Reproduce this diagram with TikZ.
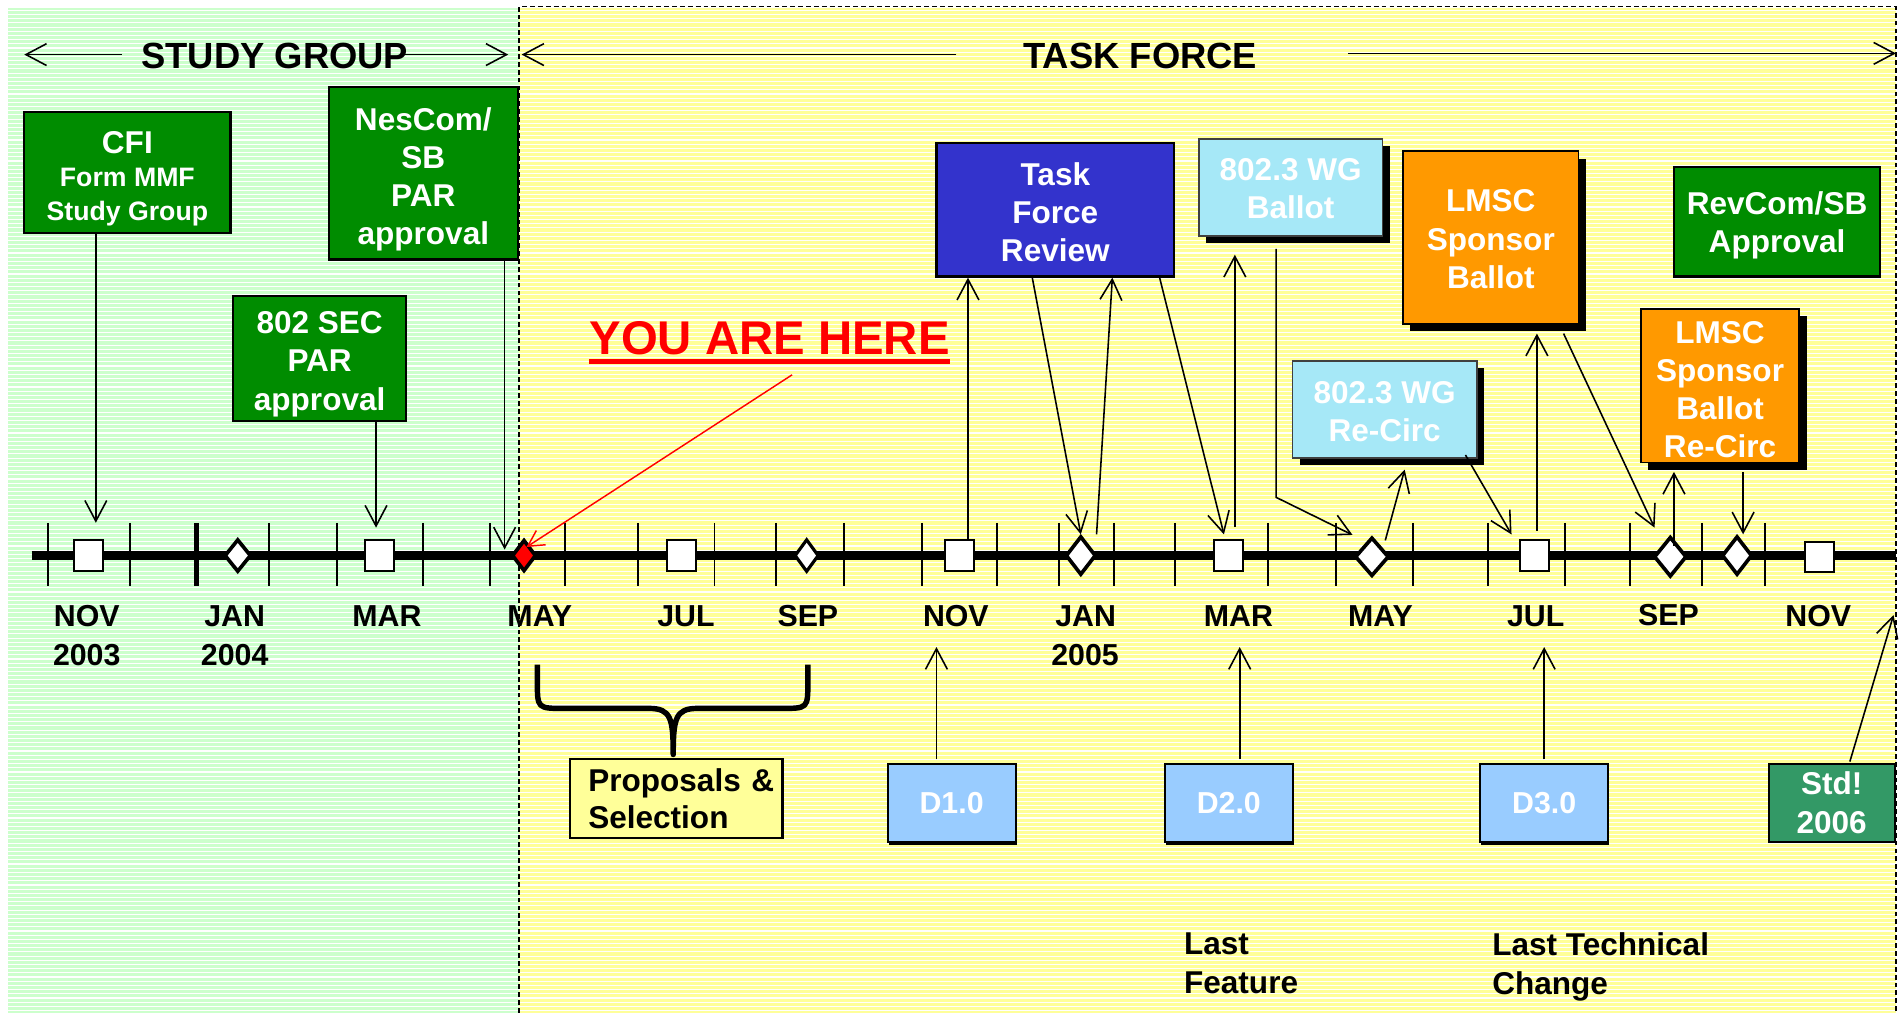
\documentclass[tikz,border=0pt]{standalone}
\usepackage{fontspec}
\setmainfont{Liberation Sans}
\usetikzlibrary{arrows.meta,shapes.geometric,shadows,calc}
\definecolor{bggreen}{RGB}{204,255,204}
\definecolor{bgyellow}{RGB}{255,255,153}
\definecolor{dgreen}{RGB}{0,140,0}
\definecolor{tfblue}{RGB}{51,51,204}
\definecolor{wgcyan}{RGB}{166,232,247}
\definecolor{lmorange}{RGB}{255,153,0}
\definecolor{dblue}{RGB}{153,204,255}
\definecolor{stdgreen}{RGB}{51,153,102}
\definecolor{propyellow}{RGB}{255,255,153}
\newcommand{\lift}[1]{\rule{0pt}{#1}}
\begin{document}
\begin{tikzpicture}[x=1pt,y=-1pt,
  arr/.style={line width=1.3pt,-{Straight Barb[length=17pt,width=18pt]}},
  redarr/.style={draw=red,line width=1.2pt,-{Straight Barb[length=13pt,width=14pt]}},
  boxbase/.style={draw=black,inner sep=0pt,align=center,text=white,
    font=\fontsize{26}{31.5}\selectfont\bfseries},
  gbox/.style={boxbase,fill=dgreen,line width=1.8pt},
  tfbox/.style={boxbase,fill=tfblue,line width=1.8pt},
  cbox/.style={boxbase,fill=wgcyan,draw=black!75,line width=1.2pt,
    drop shadow={shadow xshift=6pt,shadow yshift=-6pt,fill=black,opacity=1}},
  obox/.style={boxbase,fill=lmorange,line width=1.5pt,
    drop shadow={shadow xshift=6pt,shadow yshift=-6pt,fill=black,opacity=1}},
  dbox/.style={boxbase,fill=dblue,line width=1.5pt,minimum width=105.5pt,minimum height=64.5pt,
    font=\fontsize{25}{30}\selectfont\bfseries,
    drop shadow={shadow xshift=0.8pt,shadow yshift=-2pt,fill=black,opacity=1}},
  sbox/.style={boxbase,fill=stdgreen,line width=1.8pt,minimum width=104pt,minimum height=64.5pt,
    font=\fontsize{26}{32}\selectfont\bfseries},
  pbox/.style={draw=black,fill=propyellow,line width=1.8pt,text=black,align=left,
    text width=175pt,inner xsep=0.1pt,inner ysep=0pt,minimum height=65pt,
    font=\fontsize{26}{30}\selectfont\bfseries},
  sqm/.style={draw=black,fill=white,line width=1.8pt,minimum width=24pt,minimum height=25pt,inner sep=0pt},
  dmm/.style 2 args={diamond,draw=black,fill=white,line width=3pt,inner sep=0pt,
    minimum width=#1,minimum height=#2},
  mon/.style={inner sep=0pt,font=\fontsize{25}{30}\selectfont\bfseries},
  ttl/.style={inner sep=0pt,font=\fontsize{30}{36}\selectfont\bfseries},
  lbl/.style={inner sep=0pt,align=left,font=\fontsize{26}{32}\selectfont\bfseries}
]
\useasboundingbox (0,0) rectangle (1568,835);
% backgrounds
\fill[bggreen] (7,7) rectangle (428,835);
\fill[bgyellow] (428,7) rectangle (1563,835);
\foreach \i in {0,...,239}{
  \pgfmathsetmacro{\yy}{8.5+3.45*\i}
  \draw[white,line width=0.9pt] (7,\yy) -- (1563,\yy);
}
\draw[line width=1.2pt,dash pattern=on 4pt off 2.5pt] (428,835) -- (428,5.5) -- (1563,5.5) -- (1563,835);

% titles
\node[ttl] (sg) at (226.5,46) {STUDY GROUP};
\node[ttl] (tf) at (940,46) {TASK FORCE};
\coordinate (sgL) at (20,45);
\coordinate (sgR) at (419,45);
\coordinate (tfL) at (430,45);
\coordinate (tfR) at (1563,44);
\draw[arr] ($(sg.west)+(-16,-1)$) -- (sgL);
\draw[arr] ($(sg.east)+(-3,-1)$) -- (sgR);
\draw[arr] ($(tf.west)+(-55,-1)$) -- (tfL);
\draw[arr] ($(tf.east)+(75,-2)$) -- (tfR);

% timeline
\draw[line width=7pt] (26,458) -- (1563,458);
\foreach \x in {39.4,107,222,278,349,404,466,526,589,640,696,760,822,873,918,969,1045,1101,1165,1227,1290,1344,1403,1455}
  \draw[line width=1.6pt] (\x,431) -- (\x,483);
\draw[line width=3.8pt] (162,431) -- (162,483);

% markers
\node[sqm] (sq1) at (73,458) {};
\node[sqm] (sq2) at (313,458) {};
\node[sqm] (sq3) at (562,458) {};
\node[sqm] (sq4) at (791,458) {};
\node[sqm] (sq5) at (1013,458) {};
\node[sqm] (sq6) at (1265,458) {};
\node[sqm] (sq7) at (1500,459) {};
\node[dmm={22pt}{27pt}] (dm1) at (196,458) {};
\node[dmm={20pt}{26pt},fill=red] (red) at (432,458) {};
\node[dmm={20pt}{27pt},line width=2.6pt] (dm2) at (665,458) {};
\node[dmm={25pt}{32pt}] (dm3) at (891,458) {};
\node[dmm={28pt}{32pt}] (dm4) at (1131,459) {};
\node[dmm={27pt}{33pt}] (dm5) at (1377,459) {};
\node[dmm={25pt}{32pt}] (dm6) at (1432,458) {};

% month labels
\node[mon] (mn1) at (71.5,508) {NOV};
\node[mon] (yr1) at (71.5,540) {2003};
\node[mon] (mn2) at (193.5,508) {JAN};
\node[mon] (yr2) at (193.5,540) {2004};
\node[mon] (mn3) at (319,508) {MAR};
\node[mon] (mn4) at (445,508) {MAY};
\node[mon] (mn5) at (565.5,508) {JUL};
\node[mon] (mn6) at (666,508) {SEP};
\node[mon] (mn7) at (788,508) {NOV};
\node[mon] (mn8) at (895,508) {JAN};
\node[mon] (yr3) at (894.5,540) {2005};
\node[mon] (mn9) at (1021,508) {MAR};
\node[mon] (mn10) at (1138,508) {MAY};
\node[mon] (mn11) at (1266,508) {JUL};
\node[mon] (mn12) at (1375.5,507) {SEP};
\node[mon] (mn13) at (1499,508) {NOV};

% boxes
\node[gbox,minimum width=170pt,minimum height=100pt,font=\fontsize{22}{27.5}\selectfont\bfseries]
  (cfi) at (105,142) {{\fontsize{26}{27.5}\selectfont\lift{28.6pt}CFI}\\Form MMF\\Study Group};
\node[gbox,minimum width=156pt,minimum height=142pt] (nescom) at (349,143) {\lift{28.6pt}NesCom/\\SB\\PAR\\approval};
\node[gbox,minimum width=143pt,minimum height=103pt] (sec) at (263.5,295.5) {\lift{27.6pt}802 SEC\\PAR\\approval};
\node[tfbox,minimum width=196pt,minimum height=110pt] (tfr) at (870,173) {\lift{22.6pt}Task\\Force\\Review};
\node[cbox,minimum width=151pt,minimum height=80pt] (wgb) at (1064,154.5) {\lift{20.6pt}802.3 WG\\Ballot};
\node[obox,minimum width=144.5pt,minimum height=142.5pt] (lmsc) at (1229,196) {\lift{20.6pt}LMSC\\Sponsor\\Ballot};
\node[gbox,minimum width=170pt,minimum height=90pt] (revcom) at (1465,183) {\lift{24.6pt}RevCom/SB\\Approval};
\node[cbox,minimum width=152pt,minimum height=80pt] (wgr) at (1141.5,337.5) {\lift{21.6pt}802.3 WG\\Re-Circ};
\node[obox,minimum width=130.5pt,minimum height=126.5pt] (lmscr) at (1418,318) {\lift{24.6pt}LMSC\\Sponsor\\Ballot\\Re-Circ};
\node[pbox] (prop) at (557.5,658.5) {\hspace*{15pt}Proposals \&\\\hspace*{15pt}Selection};
\node[dbox] (d1) at (784.5,662) {D1.0};
\node[dbox] (d2) at (1013,662) {D2.0};
\node[dbox] (d3) at (1273,662) {D3.0};
\node[sbox] (std) at (1510,662) {Std!\\2006};

% free labels
\node[lbl,anchor=north west] (lastf) at (976,769) {Last\\Feature};
\node[lbl,anchor=north west] (lastt) at (1230,769) {Last Technical\\Change};

% you are here
\node[inner sep=0pt,text=red,font=\fontsize{39}{41}\selectfont\bfseries] (yah) at (634.5,278.6) {YOU ARE HERE};
\draw[red,line width=4.4pt] ($(yah.base west)+(0,6)$) -- ($(yah.base east)+(0,6)$);
\coordinate (r0) at (653,309);
\draw[redarr] (r0) -- ([xshift=2pt,yshift=7pt]red.center);

% brace
\draw[line width=4.5pt,line join=round]
  (443,548) -- (443,562) .. controls (443,584) and (443,584) .. (465,584) -- (535,584)
  .. controls (553,584) and (555,592) .. (555,622)
  .. controls (555,592) and (557,584) .. (575,584) -- (644,584)
  .. controls (666,584) and (666,584) .. (666,562) -- (666,548);

% connectors: study group
\coordinate (t1) at (79,431);
\coordinate (t2) at (310,435);
\coordinate (t3) at (416,453);
\draw[arr] (cfi.south -| t1) -- (t1);
\draw[arr] (sec.south -| t2) -- (t2);
\draw[arr] (nescom.south -| t3) -- (t3);

% connectors: task force
\coordinate (c5) at (798,0);
\coordinate (c6) at (851,0);
\coordinate (c7) at (917,0);
\coordinate (c8) at (956,0);
\coordinate (c9) at (1018,210);
\coordinate (c10) at (1052,410);
\coordinate (c11) at (1115,441);
\coordinate (tend) at (1561,507);
\draw[arr] (sq4.north -| c5) -- (tfr.south -| c5);
\draw[arr] (tfr.south -| c6) -- (dm3.north);
\draw[arr] ([xshift=13pt]dm3.north) -- (tfr.south -| c7);
\draw[arr] (tfr.south -| c8) -- ($(sq5.north)+(-4,-4)$);
\draw[arr] ($(sq5.north)+(5,-10)$) -- (c9);
\draw[arr] ($(wgb.south -| c10)+(0,10)$) -- (c10) -- (c11);
\draw[arr] ($(dm4.north)+(11,4)$) -- ($(wgr.south)+(16.5,9)$);
\draw[arr] ($(wgr.south east)+(-10,-3)$) -- ($(sq6.north west)+(-6,-4)$);
\draw[arr] ($(sq6.north)+(2,-7)$) -- ($(lmsc.south)+(38,7)$);
\draw[arr] ($(lmsc.south)+(60,7)$) -- ($(dm5.north)+(-13,-6)$);
\draw[arr] ($(dm5.north)+(3,9)$) -- ($(lmscr.south)+(-38,7)$);
\draw[arr] ($(lmscr.south)+(19,7)$) -- ($(dm6.north)+(5,0)$);
\draw[arr] ($(std.north)+(15,-1)$) -- (tend);
\draw[arr] ($(d1.north)+(-12.5,-3)$) -- ($(sq4.south)+(-19,62)$);
\draw[arr] ($(d2.north)+(9,-3)$) -- ($(sq5.south)+(9,62)$);
\draw[arr] ($(d3.north)+(0,-3)$) -- ($(sq6.south)+(8,62)$);
\end{tikzpicture}
\end{document}
